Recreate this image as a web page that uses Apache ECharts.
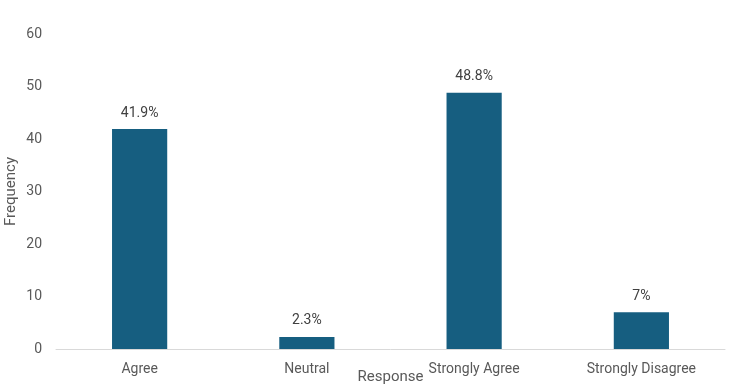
<!DOCTYPE html>
<html>
<head>
<meta charset="utf-8">
<script src="https://cdn.jsdelivr.net/npm/echarts@6/dist/echarts.min.js"></script>
<style>
  html, body { margin: 0; padding: 0; background: #fff; }
  #chart { width: 750px; height: 388px; }
</style>
</head>
<body>
<div id="chart"></div>
<script>
const categories = ["Agree", "Neutral", "Strongly Agree", "Strongly Disagree"];
const frequency = [41.9, 2.3, 48.8, 7];
const pctLabels = ["41.9%", "2.3%", "48.8%", "7%"];

const chart = echarts.init(document.getElementById("chart"));

const option = {
  animation: false,
  grid: {
    left: 56,
    right: 25,
    top: 34,
    bottom: 39,
    containLabel: false,
    outerBoundsMode: "none",
  },
  xAxis: {
    type: "category",
    data: categories,
    name: "Response",
    nameLocation: "middle",
    nameGap: 21,
    nameMoveOverlap: false,
    nameTextStyle: {
      color: "#595959",
      fontSize: 15,
      fontFamily: "Liberation Sans Narrow, Roboto, sans-serif",
    },
    axisTick: { show: false },
    axisLine: { lineStyle: { color: "#d9d9d9", width: 1 } },
    axisLabel: {
      color: "#595959",
      fontSize: 14,
      margin: 13,
      fontFamily: "Liberation Sans Narrow, Roboto, sans-serif",
    },
  },
  yAxis: {
    type: "value",
    min: 0,
    max: 60,
    interval: 10,
    name: "Frequency",
    nameLocation: "middle",
    nameGap: 37,
    nameMoveOverlap: false,
    nameTextStyle: {
      color: "#595959",
      fontSize: 15,
      fontFamily: "Roboto, sans-serif",
    },
    axisLine: { show: false },
    axisTick: { show: false },
    splitLine: { show: false },
    axisLabel: {
      color: "#595959",
      fontSize: 14,
      margin: 14,
      fontFamily: "Roboto, sans-serif",
    },
  },
  series: [
    {
      type: "bar",
      data: frequency,
      barWidth: "33%",
      itemStyle: { color: "#165e80" },
      label: {
        show: true,
        position: "top",
        distance: 9,
        color: "#404040",
        fontSize: 14,
        fontFamily: "Roboto, sans-serif",
        formatter: (p) => pctLabels[p.dataIndex],
      },
    },
  ],
};
chart.setOption(option);
</script>
</body>
</html>
